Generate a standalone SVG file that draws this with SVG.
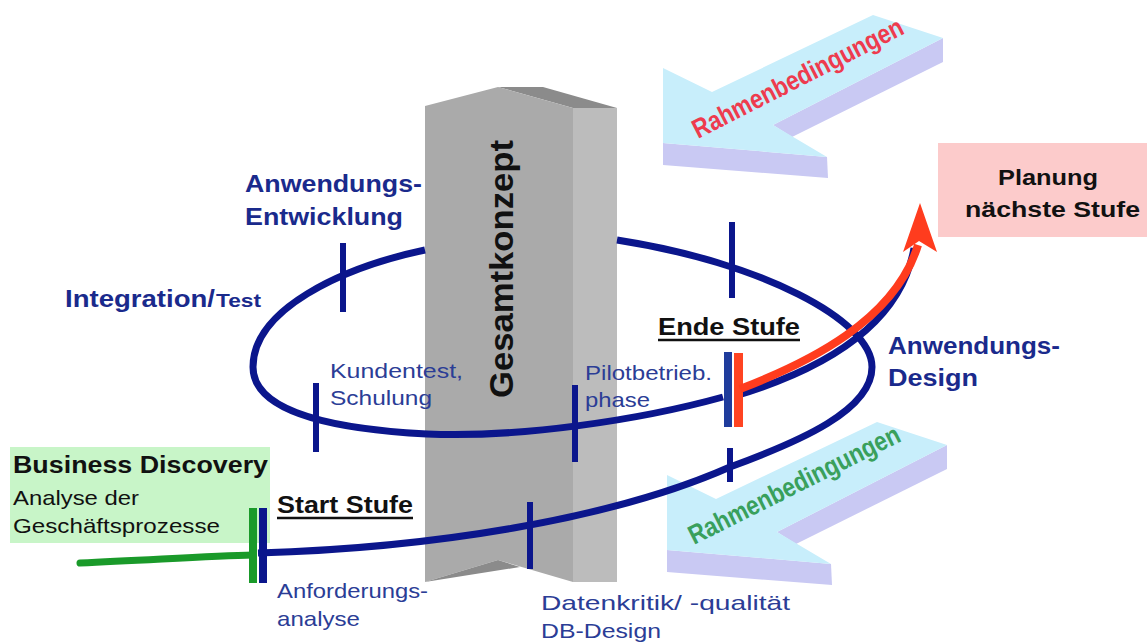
<svg xmlns="http://www.w3.org/2000/svg" width="1147" height="643" viewBox="0 0 1147 643">
<defs>
<style>
.t{font-family:"Liberation Sans",Arial,sans-serif}
.b{font-weight:bold}
.navy{fill:#1a2a8c}
.lbl{fill:#2b3d96;font-size:21px}
.blk{fill:#111}
.line{fill:none;stroke:#0b168c;stroke-width:7}
.tick{stroke:#0b168c;stroke-width:6}
.cyan{fill:#c8eefb}
.lav{fill:#c9c9f3}
</style>
<g id="rarrow">
<polygon class="lav" points="773,125 943,38 943,62 792,137"/>
<polygon class="lav" points="663,143 827,157 828,178 663,165"/>
<polygon class="cyan" points="873,15 943,38 773,125 827,157 663,143 663,68 712,92"/>
</g>
</defs>
<rect width="1147" height="643" fill="#fff"/>

<g id="rahmen-top">
<use href="#rarrow"/>
<text class="t b" x="0" y="0" transform="translate(698,139) rotate(-27)" font-size="27" fill="#ee3b4e" textLength="233" lengthAdjust="spacingAndGlyphs">Rahmenbedingungen</text>
</g>
<g id="rahmen-bottom">
<use href="#rarrow" transform="translate(4,407)"/>
<text class="t b" x="0" y="0" transform="translate(694,545) rotate(-26.6)" font-size="27" fill="#39a05c" textLength="233" lengthAdjust="spacingAndGlyphs">Rahmenbedingungen</text>
</g>

<g id="planung">
<rect x="938" y="143" width="209" height="94" fill="#fccbcb"/>
<text class="t b blk" x="998" y="185" font-size="22" textLength="100" lengthAdjust="spacingAndGlyphs">Planung</text>
<text class="t b blk" x="965" y="217" font-size="22" textLength="175" lengthAdjust="spacingAndGlyphs">nächste Stufe</text>
</g>

<g id="business-discovery">
<rect x="10" y="447" width="260" height="96" fill="#c8f5c8"/>
<text class="t b blk" x="13" y="473" font-size="23" textLength="255" lengthAdjust="spacingAndGlyphs">Business Discovery</text>
<text class="t blk" x="13" y="505" font-size="21" textLength="126" lengthAdjust="spacingAndGlyphs">Analyse der</text>
<text class="t blk" x="13" y="533" font-size="21" textLength="207" lengthAdjust="spacingAndGlyphs">Geschäftsprozesse</text>
</g>

<g id="gesamtkonzept">
<polygon points="573,108 617,108 617,582 573,582" fill="#bcbcbc"/>
<polygon points="498,87 543,87 617,108 573,108" fill="#8b8b8b"/>
<polygon points="425,106 498,87 573,108 573,582 498,560 425,582" fill="#aaaaaa"/>
<polygon points="425,582 498,560 520,567" fill="#8b8b8b"/>
<text class="t b blk" x="0" y="0" transform="translate(513,398) rotate(-90)" font-size="34" textLength="258" lengthAdjust="spacingAndGlyphs">Gesamtkonzept</text>
</g>

<g id="connectors">
<path d="M80,563 C150,560 210,556 253,555" fill="none" stroke="#1a9a2a" stroke-width="7" stroke-linecap="round"/>
<path class="line" d="M258,553 C430,548 610,520 730,467 C801,441 872,410 872,367 C872,320 760,262 617,240"/>
<path class="line" d="M425,250 C340,268 253,310 253,367 C253,405 310,428 427,434 C520,438 640,420 723,397"/>
<path class="line" d="M735,396 C815,372 900,330 914,248"/>
<line class="tick" x1="343" y1="243" x2="343" y2="312"/>
<line class="tick" x1="316" y1="383" x2="316" y2="452"/>
<line class="tick" x1="575" y1="385" x2="575" y2="462"/>
<line class="tick" x1="732" y1="222" x2="732" y2="298"/>
<line class="tick" x1="730" y1="448" x2="730" y2="482"/>
<line class="tick" x1="530" y1="502" x2="530" y2="569"/>
<rect x="249" y="508" width="8" height="75" fill="#1a9a2a"/>
<rect x="259" y="508" width="8" height="75" fill="#0b168c"/>
<rect x="724" y="352" width="8" height="75" fill="#1f3c9c"/>
<rect x="734" y="353" width="9" height="74" fill="#ff4422"/>
<path d="M740,389 C810,362 895,320 918,245" fill="none" stroke="#ff3c1e" stroke-width="8"/>
<polygon points="920,203 937,252 919,241 903,252" fill="#ff3c1e"/>
</g>

<g id="labels">
<text class="t b navy" x="245" y="192" font-size="24" textLength="177" lengthAdjust="spacingAndGlyphs">Anwendungs-</text>
<text class="t b navy" x="245" y="225" font-size="24" textLength="158" lengthAdjust="spacingAndGlyphs">Entwicklung</text>
<text class="t b navy" x="65" y="307" font-size="24" textLength="150" lengthAdjust="spacingAndGlyphs">Integration/</text>
<text class="t b navy" x="216" y="307" font-size="19" textLength="45" lengthAdjust="spacingAndGlyphs">Test</text>
<text class="t lbl" x="330" y="378" textLength="133" lengthAdjust="spacingAndGlyphs">Kundentest,</text>
<text class="t lbl" x="330" y="405" textLength="102" lengthAdjust="spacingAndGlyphs">Schulung</text>
<text class="t lbl" x="585" y="380" textLength="127" lengthAdjust="spacingAndGlyphs">Pilotbetrieb.</text>
<text class="t lbl" x="585" y="407" textLength="65" lengthAdjust="spacingAndGlyphs">phase</text>
<text class="t b blk" x="658" y="335" font-size="23" textLength="142" lengthAdjust="spacingAndGlyphs">Ende Stufe</text>
<line x1="658" y1="340" x2="800" y2="340" stroke="#111" stroke-width="2.5"/>
<text class="t b navy" x="888" y="354" font-size="24" textLength="172" lengthAdjust="spacingAndGlyphs">Anwendungs-</text>
<text class="t b navy" x="888" y="386" font-size="24" textLength="90" lengthAdjust="spacingAndGlyphs">Design</text>
<text class="t b blk" x="277" y="513" font-size="23" textLength="136" lengthAdjust="spacingAndGlyphs">Start Stufe</text>
<line x1="277" y1="518" x2="413" y2="518" stroke="#111" stroke-width="2.5"/>
<text class="t lbl" x="277" y="598" textLength="151" lengthAdjust="spacingAndGlyphs">Anforderungs-</text>
<text class="t lbl" x="277" y="626" textLength="83" lengthAdjust="spacingAndGlyphs">analyse</text>
<text class="t lbl" x="541" y="610" textLength="249" lengthAdjust="spacingAndGlyphs">Datenkritik/ -qualität</text>
<text class="t lbl" x="541" y="638" textLength="120" lengthAdjust="spacingAndGlyphs">DB-Design</text>
</g>
</svg>
